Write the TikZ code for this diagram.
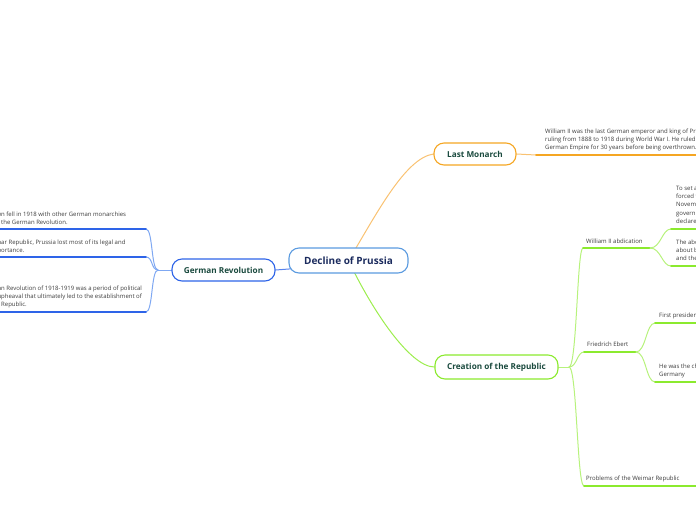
\documentclass[tikz,border=0pt]{standalone}
\usepackage{fontspec}
\setmainfont{Open Sans}
\usetikzlibrary{calc}
\definecolor{navy}{HTML}{1B2B5E}
\definecolor{tealtxt}{HTML}{1A4A3E}
\definecolor{leafgray}{HTML}{3C3C3C}
\definecolor{cblue}{HTML}{5B9BE0}
\definecolor{gblue}{HTML}{2E64E8}
\definecolor{gblueL}{HTML}{7FA8F2}
\definecolor{orng}{HTML}{F5A623}
\definecolor{orngL}{HTML}{F9C272}
\definecolor{grn}{HTML}{8BEA2E}
\definecolor{grnL}{HTML}{B7F27C}
\pgfdeclarelayer{bg}
\pgfsetlayers{bg,main}
\tikzset{
  topic/.style={draw, rounded corners=10pt, line width=1.1pt, fill=white, inner sep=0pt,
    font=\fontsize{8.2}{9}\selectfont\bfseries, text=tealtxt},
  leaf/.style={inner sep=0pt, align=left, anchor=base west, text=leafgray,
    font=\fontsize{6}{8.4}\selectfont},
  conn/.style={line width=1pt, line cap=round},
  uline/.style={line width=1.6pt, line cap=round},
}
\begin{document}
\begin{tikzpicture}[x=1pt, y=-1pt]
\useasboundingbox (0,0) rectangle (696,520);
\clip (0,0) rectangle (696,520);
% main topics
\node[topic, draw=cblue, text=navy, font=\fontsize{10}{12}\selectfont\bfseries,
      minimum width=119pt, minimum height=25pt] (dp) at (348.5,260.5) {Decline of Prussia};
\node[topic, draw=gblue, minimum width=103pt, minimum height=22pt] (gr) at (223.5,270) {German Revolution};
\node[topic, draw=orng, minimum width=82pt, minimum height=22pt] (lm) at (475,154) {Last Monarch};
\node[topic, draw=grn, minimum width=123pt, minimum height=24pt] (cr) at (496.5,367) {Creation of the Republic};

% leaf texts, left (anchor = baseline of last line)
\node[leaf] (g1) at (1,224.4) {\llap{The Prussian crow}n fell in 1918 with other German monarchies\\\llap{during }the German Revolution.};
\node[leaf] (g2) at (1,252.4) {\llap{Under the Weim}ar Republic, Prussia lost most of its legal and\\\llap{political imp}ortance.};
\node[leaf] (g3) at (1,306.8) {\llap{The Germa}n Revolution of 1918-1919 was a period of political\\\llap{and social u}pheaval that ultimately led to the establishment of\\\llap{the Weimar }Republic.};

% leaf text, last monarch
\node[leaf] (lmt) at (545,149.8) {William II was the last German emperor and king of Prussia,\\ruling from 1888 to 1918 during World War I. He ruled the\\German Empire for 30 years before being overthrown.};

% creation of the republic subtopics
\node[leaf] (wab) at (586,243) {William II abdication};
\node[leaf] (fe) at (587,346) {Friedrich Ebert};
\node[leaf] (pw) at (586,480) {Problems of the Weimar Republic};
\node[leaf] (w1) at (676,223.6) {To set an example, William II was\\forced to abdicate on 9\\November 1918, and a new\\government of the republic was\\declared.};
\node[leaf] (w2) at (676,260.8) {The abdication was brought\\about by the revolution\\and the end of World War I.};
\node[leaf] (f1) at (659,317) {First president of the Weimar Republic};
\node[leaf] (f2) at (659,376.4) {He was the chancellor of\\Germany};

% coordinates
\coordinate (gj) at (158,270);
\coordinate (g1r) at (146,229); \coordinate (g1l) at (-5,229);
\coordinate (g2r) at (146,257); \coordinate (g2l) at (-5,257);
\coordinate (g3r) at (146,312); \coordinate (g3l) at (-5,312);
\coordinate (lma) at (536,155); \coordinate (lmb) at (705,155);
\coordinate (cj) at (569,367);
\coordinate (a0) at (583,248); \coordinate (a1) at (650,248);
\coordinate (w1a) at (671,229); \coordinate (w1b) at (705,229);
\coordinate (w2a) at (671,266); \coordinate (w2b) at (705,266);
\coordinate (f0) at (584,352); \coordinate (f1x) at (636,352);
\coordinate (f1a) at (655,323); \coordinate (f1b) at (705,323);
\coordinate (f2a) at (655,382); \coordinate (f2b) at (705,382);
\coordinate (p0) at (584,486); \coordinate (p1) at (705,486);

\begin{pgfonlayer}{bg}
% central connectors
\draw[conn, orngL] (dp.center) .. controls (376,215) and (405,158) .. (lm.west);
\draw[conn, grn!85!white] (dp.center) .. controls (372,310) and (410,367) .. (cr.west);
\draw[conn, gblue!80!white] (gr.east) -- ($(dp.center)+(0,4)$);
% German revolution branch
\draw[conn, gblueL] (gr.west) -- (gj);
\draw[conn, gblueL] (gj) .. controls (151,270) and (153,229) .. (g1r);
\draw[conn, gblueL] (gj) .. controls (151,270) and (153,257) .. (g2r);
\draw[conn, gblueL] (gj) .. controls (151,270) and (153,312) .. (g3r);
\draw[uline, gblue] (g1r) -- (g1l);
\draw[uline, gblue] (g2r) -- (g2l);
\draw[uline, gblue] (g3r) -- (g3l);
% last monarch
\draw[conn, orngL] (lm.east) -- (lma);
\draw[uline, orng] (lma) -- (lmb);
% creation of the republic
\draw[conn, grnL] (cr.east) -- (cj);
\draw[conn, grnL] (cj) .. controls (577,367) and (577,248) .. (a0);
\draw[uline, grn] (a0) -- (a1);
\draw[conn, grnL] (a1) .. controls (661,248) and (662,229) .. (w1a);
\draw[conn, grnL] (a1) .. controls (661,248) and (662,266) .. (w2a);
\draw[uline, grn] (w1a) -- (w1b);
\draw[uline, grn] (w2a) -- (w2b);
\draw[conn, grnL] (cj) .. controls (577,367) and (577,352) .. (f0);
\draw[uline, grn] (f0) -- (f1x);
\draw[conn, grnL] (f1x) .. controls (646,352) and (646,323) .. (f1a);
\draw[conn, grnL] (f1x) .. controls (646,352) and (646,382) .. (f2a);
\draw[uline, grn] (f1a) -- (f1b);
\draw[uline, grn] (f2a) -- (f2b);
\draw[conn, grnL] (cj) .. controls (577,367) and (577,486) .. (p0);
\draw[uline, grn] (p0) -- (p1);
\end{pgfonlayer}
\end{tikzpicture}
\end{document}
